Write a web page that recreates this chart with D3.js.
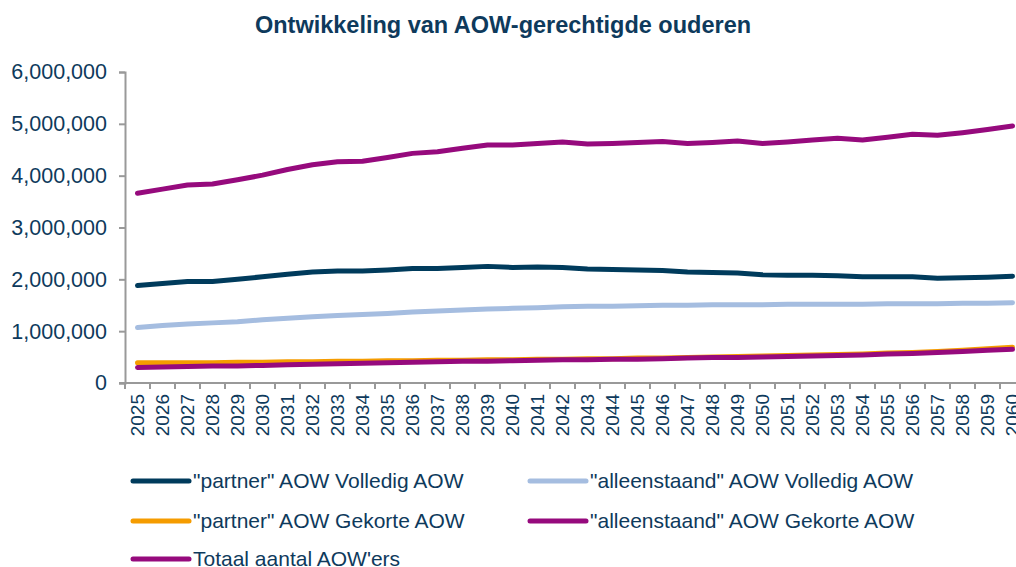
<!DOCTYPE html>
<html>
<head>
<meta charset="utf-8">
<script src="https://cdn.jsdelivr.net/npm/d3@7"></script>
<style>
  body { margin: 0; background: #fff; }
  svg text { font-family: "Liberation Sans", Arial, sans-serif; }
</style>
</head>
<body>
<svg id="chart" width="1016" height="567"></svg>
<script>
// years on the x axis
var years = d3.range(2025, 2061).map(String);

// series values
var partnerVolledig = [1880000, 1920000, 1960000, 1960000, 2000000, 2050000, 2100000, 2140000, 2160000, 2160000, 2180000, 2210000,
  2210000, 2230000, 2250000, 2230000, 2240000, 2230000, 2200000, 2190000, 2180000, 2170000, 2140000, 2130000,
  2120000, 2090000, 2080000, 2080000, 2070000, 2050000, 2050000, 2050000, 2020000, 2030000, 2040000, 2060000];
var alleenVolledig = [1070000, 1110000, 1140000, 1160000, 1180000, 1220000, 1250000, 1280000, 1300000, 1320000, 1340000, 1370000,
  1390000, 1410000, 1430000, 1440000, 1450000, 1470000, 1480000, 1480000, 1490000, 1500000, 1500000, 1510000,
  1510000, 1510000, 1520000, 1520000, 1520000, 1520000, 1530000, 1530000, 1530000, 1540000, 1540000, 1550000];
var partnerGekort = [390000, 390000, 390000, 390000, 400000, 400000, 410000, 410000, 420000, 420000, 430000, 430000,
  440000, 440000, 450000, 450000, 460000, 460000, 470000, 470000, 480000, 480000, 490000, 500000,
  510000, 520000, 530000, 540000, 550000, 560000, 580000, 590000, 610000, 630000, 660000, 690000];
var alleenGekort = [300000, 310000, 320000, 330000, 330000, 340000, 350000, 360000, 370000, 380000, 390000, 400000,
  410000, 420000, 420000, 430000, 440000, 450000, 450000, 460000, 460000, 470000, 480000, 490000,
  490000, 500000, 510000, 520000, 530000, 540000, 560000, 570000, 590000, 610000, 630000, 650000];
var totaal = [3660000, 3740000, 3820000, 3840000, 3920000, 4010000, 4120000, 4210000, 4270000, 4280000, 4350000, 4430000,
  4460000, 4530000, 4590000, 4590000, 4620000, 4650000, 4610000, 4620000, 4640000, 4660000, 4620000, 4640000,
  4670000, 4620000, 4650000, 4690000, 4720000, 4690000, 4740000, 4800000, 4780000, 4830000, 4890000, 4960000];

var seriesNames = ['"partner" AOW Volledig AOW', '"alleenstaand" AOW Volledig AOW',
  '"partner" AOW Gekorte AOW', '"alleenstaand" AOW Gekorte AOW', "Totaal aantal AOW'ers"];
var seriesColors = ["#003B5C", "#A5BDE0", "#F59C00", "#960A7D", "#960A7D"];
var yTicks = [0, 1000000, 2000000, 3000000, 4000000, 5000000, 6000000];

var series = [partnerVolledig, alleenVolledig, partnerGekort, alleenGekort, totaal];
var textColor = "#0E3A5C";

var svg = d3.select("#chart");
var margin = { top: 72, left: 125 };
var plotBottom = 383;

var x = d3.scaleBand()
  .domain(years)
  .range([125, 1025]);

var y = d3.scaleLinear()
  .domain([0, 6000000])
  .range([plotBottom, margin.top]);

// title
svg.append("text")
  .attr("x", 503)
  .attr("y", 33)
  .attr("text-anchor", "middle")
  .attr("font-size", 23.5)
  .attr("font-weight", "bold")
  .attr("fill", textColor)
  .text("Ontwikkeling van AOW-gerechtigde ouderen");

// y axis
var yAxis = d3.axisLeft(y)
  .tickValues(yTicks)
  .tickSize(6)
  .tickFormat(d3.format(","));

var gy = svg.append("g")
  .attr("transform", "translate(" + margin.left + ",0)")
  .call(yAxis);
gy.select(".domain").attr("stroke", "#999").attr("stroke-width", 2);
gy.selectAll(".tick line").attr("stroke", "#999").attr("stroke-width", 2);
gy.selectAll(".tick text")
  .attr("x", -18)
  .attr("font-size", 21.5)
  .attr("fill", textColor)
  .attr("font-family", "Liberation Sans, Arial, sans-serif");

// x axis: ticks on band boundaries
var gx = svg.append("g")
  .attr("transform", "translate(0," + plotBottom + ")");
gx.append("line")
  .attr("x1", 119).attr("x2", 1016)
  .attr("stroke", "#999").attr("stroke-width", 2);
gx.selectAll(".bt")
  .data(years)
  .enter().append("line")
  .attr("x1", function (d) { return x(d); })
  .attr("x2", function (d) { return x(d); })
  .attr("y1", 0).attr("y2", 6)
  .attr("stroke", "#999").attr("stroke-width", 2);
gx.selectAll(".lbl")
  .data(years)
  .enter().append("text")
  .attr("transform", function (d) {
    return "translate(" + (x(d) + x.bandwidth() / 2 + 6.5) + ",11) rotate(-90)";
  })
  .attr("text-anchor", "end")
  .attr("font-size", 19)
  .attr("fill", textColor)
  .text(function (d) { return d; });

// lines
var line = d3.line()
  .x(function (d, i) { return x(years[i]) + x.bandwidth() / 2; })
  .y(function (d) { return y(d); });

var drawOrder = [1, 0, 2, 3, 4];
drawOrder.forEach(function (k) {
  svg.append("path")
    .datum(series[k])
    .attr("d", line)
    .attr("fill", "none")
    .attr("stroke", seriesColors[k])
    .attr("stroke-width", 5)
    .attr("stroke-linecap", "round")
    .attr("stroke-linejoin", "round");
});

// legend
var legendPos = [[133, 481], [530, 481], [133, 521], [530, 521], [133, 559]];
seriesNames.forEach(function (name, k) {
  var g = svg.append("g")
    .attr("transform", "translate(" + legendPos[k][0] + "," + legendPos[k][1] + ")");
  g.append("line")
    .attr("x1", 0).attr("x2", 56)
    .attr("stroke", seriesColors[k])
    .attr("stroke-width", 5)
    .attr("stroke-linecap", "round");
  g.append("text")
    .attr("x", 60)
    .attr("y", 7)
    .attr("font-size", 21)
    .attr("fill", textColor)
    .text(name);
});
</script>
</body>
</html>
